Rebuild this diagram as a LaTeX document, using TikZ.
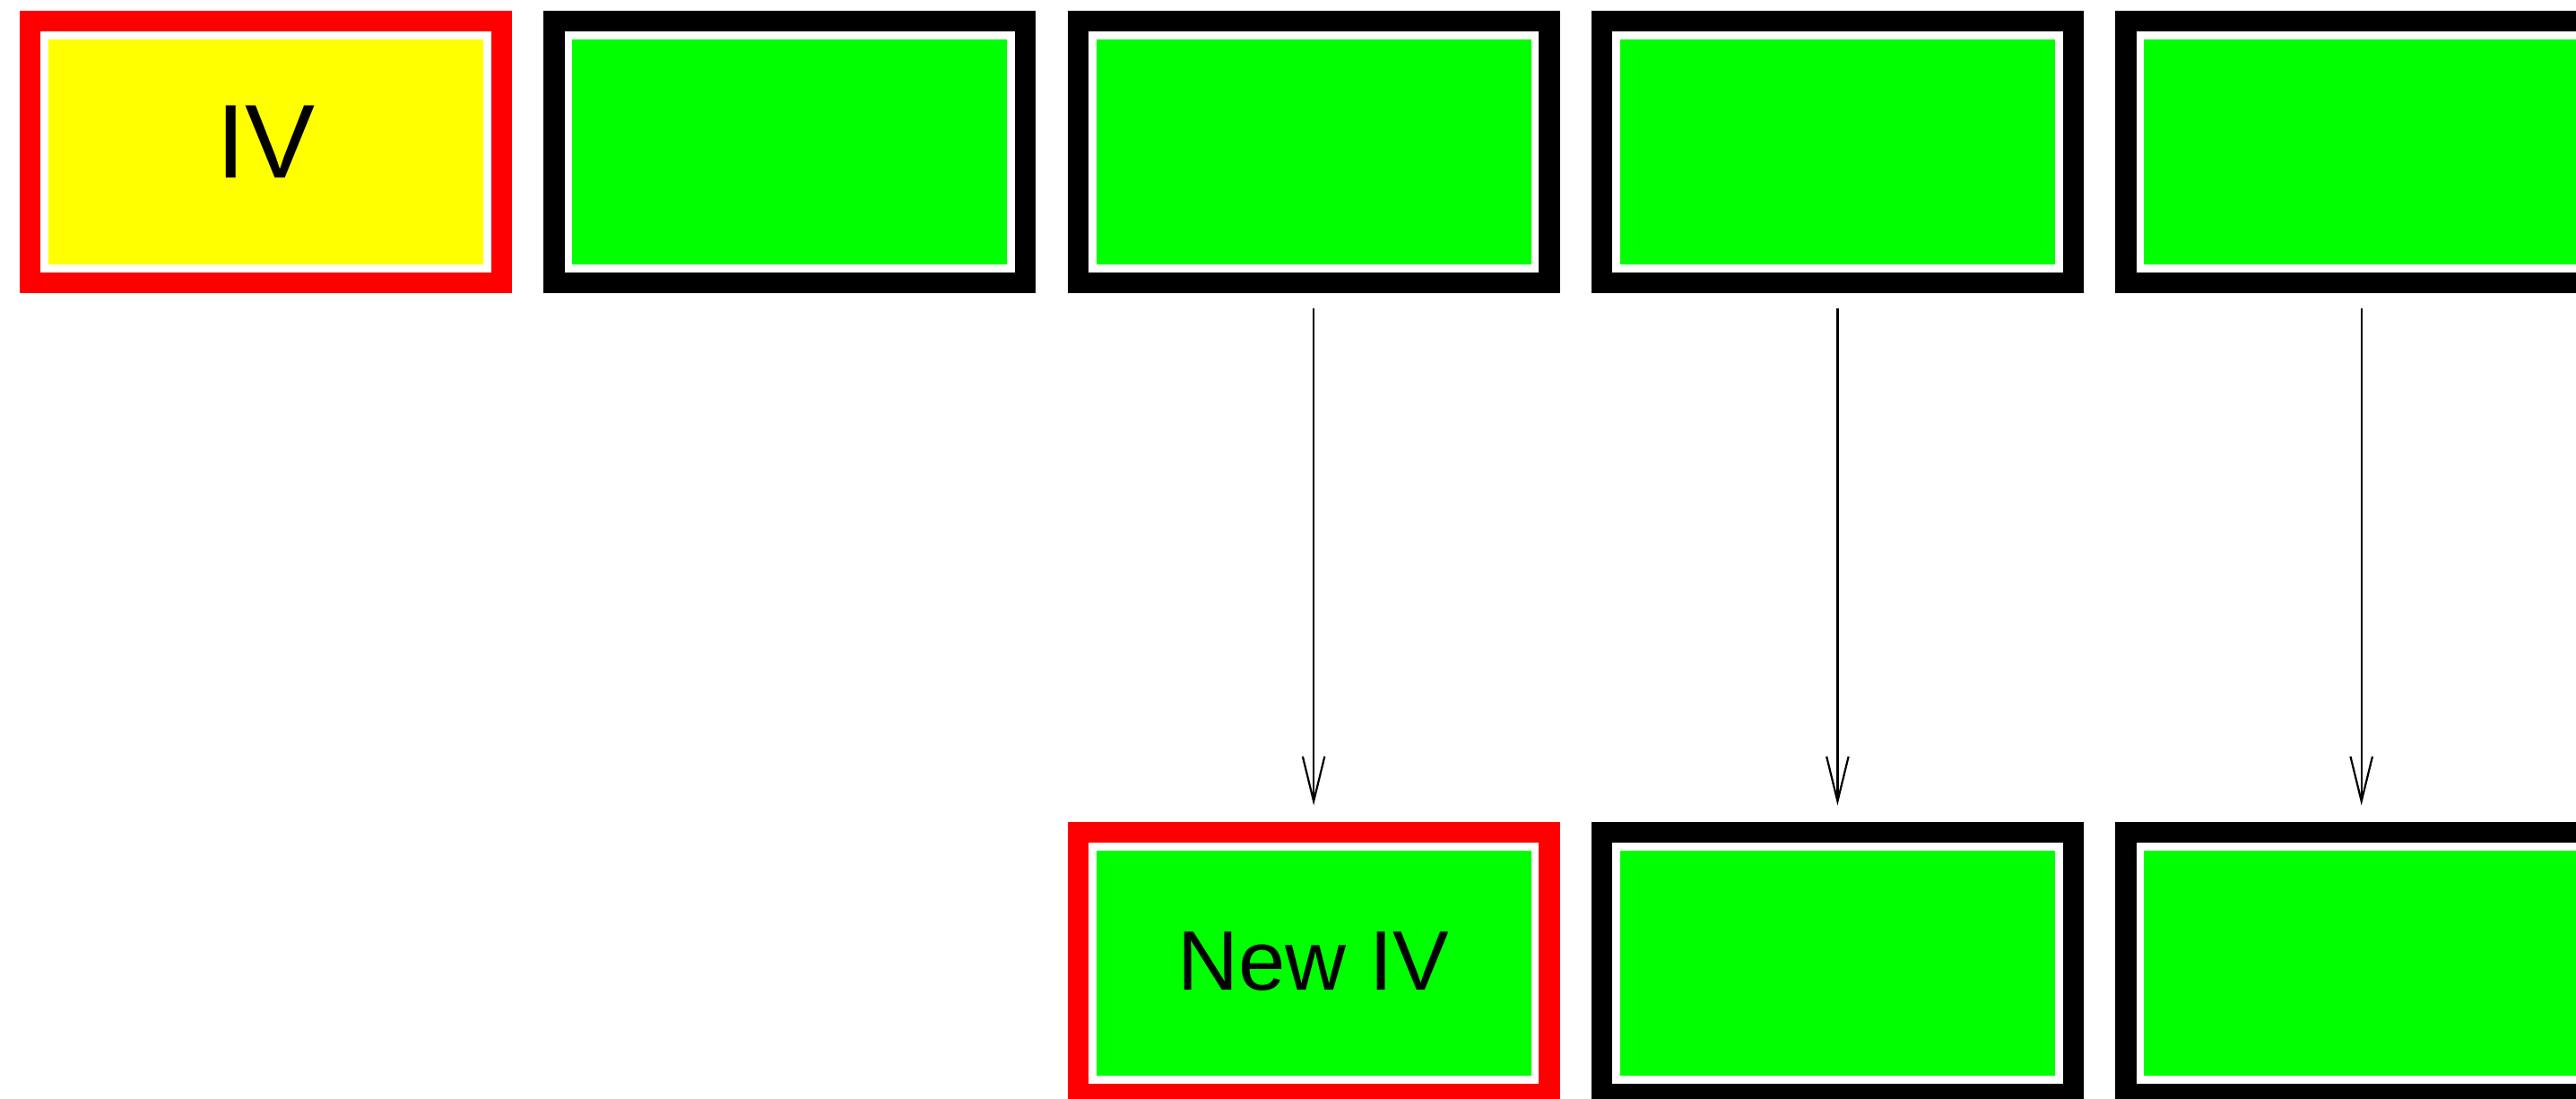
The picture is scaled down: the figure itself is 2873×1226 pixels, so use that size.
\documentclass[tikz,border=0pt]{standalone}
\usepackage{fontspec}
\setmainfont{Liberation Sans}
\usetikzlibrary{arrows.meta,calc}

\definecolor{cellred}{RGB}{255,0,0}
\definecolor{cellyellow}{RGB}{255,255,0}
\definecolor{cellgreen}{RGB}{0,255,0}

\tikzset{
  % framed block: thick coloured frame, thin white gap, coloured core
  cell/.style={draw=#1, line width=23.3pt, fill=white, inner sep=0pt,
    minimum width=525.7pt, minimum height=292pt,
    text height=90pt, text depth=31pt},
  core/.style={path picture={
      \fill[#1] ($(path picture bounding box.south west)+(20.4pt,20.4pt)$)
        rectangle ($(path picture bounding box.north east)-(20.4pt,20.4pt)$);}},
  bigtext/.style={font=\fontsize{117}{120}\selectfont},
  midtext/.style={font=\fontsize{94}{100}\selectfont},
  flow/.style={line width=2.2pt, -{Straight Barb[length=50pt,width=24.5pt]},
    shorten <=17pt, shorten >=18.5pt}
}

\begin{document}
\begin{tikzpicture}[x=1pt,y=1pt]
  \path[use as bounding box] (0,0) rectangle (2873,-1226);
  \clip (0,0) rectangle (2873,-1226);

  % upper row
  \node[cell=cellred,   core=cellyellow, bigtext] (t1) at (296.5,-169.35)  {IV};
  \node[cell=black,     core=cellgreen]           (t2) at (880.8,-169.35)  {};
  \node[cell=black,     core=cellgreen]           (t3) at (1465.1,-169.35) {};
  \node[cell=black,     core=cellgreen]           (t4) at (2049.4,-169.35) {};
  \node[cell=black,     core=cellgreen]           (t5) at (2633.7,-169.35) {};

  % lower row
  \node[cell=cellred,   core=cellgreen, midtext]  (b3) at (1465.1,-1074.65) {New IV};
  \node[cell=black,     core=cellgreen]           (b4) at (2049.4,-1074.65) {};
  \node[cell=black,     core=cellgreen]           (b5) at (2633.7,-1074.65) {};

  % downward links
  \draw[flow] (t3) -- (b3);
  \draw[flow] (t4) -- (b4);
  \draw[flow] (t5) -- (b5);
\end{tikzpicture}
\end{document}
